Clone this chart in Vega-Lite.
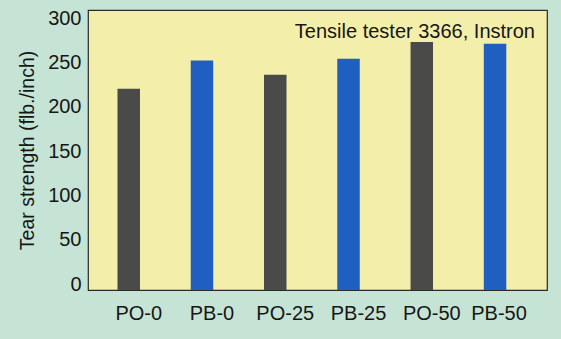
{
  "$schema": "https://vega.github.io/schema/vega-lite/v6.json",
  "width": 459,
  "height": 280,
  "autosize": {"type": "none"},
  "padding": {"left": 88, "top": 10, "right": 14, "bottom": 49},
  "background": "#c6e4d5",
  "data": {
    "values": [
      {"sample": "PO-0", "type": "PO", "strength": 227},
      {"sample": "PB-0", "type": "PB", "strength": 259},
      {"sample": "PO-25", "type": "PO", "strength": 243},
      {"sample": "PB-25", "type": "PB", "strength": 261},
      {"sample": "PO-50", "type": "PO", "strength": 280},
      {"sample": "PB-50", "type": "PB", "strength": 278}
    ]
  },
  "title": {
    "text": "Tensile tester 3366, Instron",
    "anchor": "end",
    "orient": "top",
    "frame": "group",
    "baseline": "alphabetic",
    "offset": -50,
    "dx": -12,
    "font": "Liberation Sans",
    "fontSize": 20,
    "fontWeight": "normal",
    "color": "#161616"
  },
  "mark": {"type": "bar"},
  "encoding": {
    "x": {
      "field": "sample",
      "type": "nominal",
      "sort": null,
      "scale": {"paddingInner": 0.693, "paddingOuter": 0.479, "align": 0.42},
      "axis": {
        "title": null,
        "labelAngle": 0,
        "ticks": false,
        "domain": false,
        "labelPadding": 13,
        "labelOffset": {"condition": {"test": "datum.value === 'PB-50'", "value": 4}, "value": 10},
        "labelFont": "Liberation Sans",
        "labelFontSize": 20,
        "labelColor": "#161616"
      }
    },
    "y": {
      "field": "strength",
      "type": "quantitative",
      "scale": {"domain": [0, 316], "nice": false},
      "axis": {
        "title": "Tear strength (flb./inch)",
        "values": [0, 50, 100, 150, 200, 250, 300],
        "grid": false,
        "ticks": false,
        "domain": false,
        "labelPadding": 7,
        "labelBaseline": "alphabetic",
        "labelFont": "Liberation Sans",
        "labelFontSize": 20,
        "labelColor": "#161616",
        "titleFont": "Liberation Sans",
        "titleFontSize": 19.5,
        "titleFontWeight": "normal",
        "titleColor": "#161616",
        "titlePadding": 10
      }
    },
    "color": {
      "field": "type",
      "type": "nominal",
      "scale": {"domain": ["PO", "PB"], "range": ["#4a4b48", "#1f5fbf"]},
      "legend": null
    }
  },
  "config": {
    "view": {"fill": "#f4eeab", "stroke": "#2a2a2a", "strokeWidth": 1.2}
  }
}
